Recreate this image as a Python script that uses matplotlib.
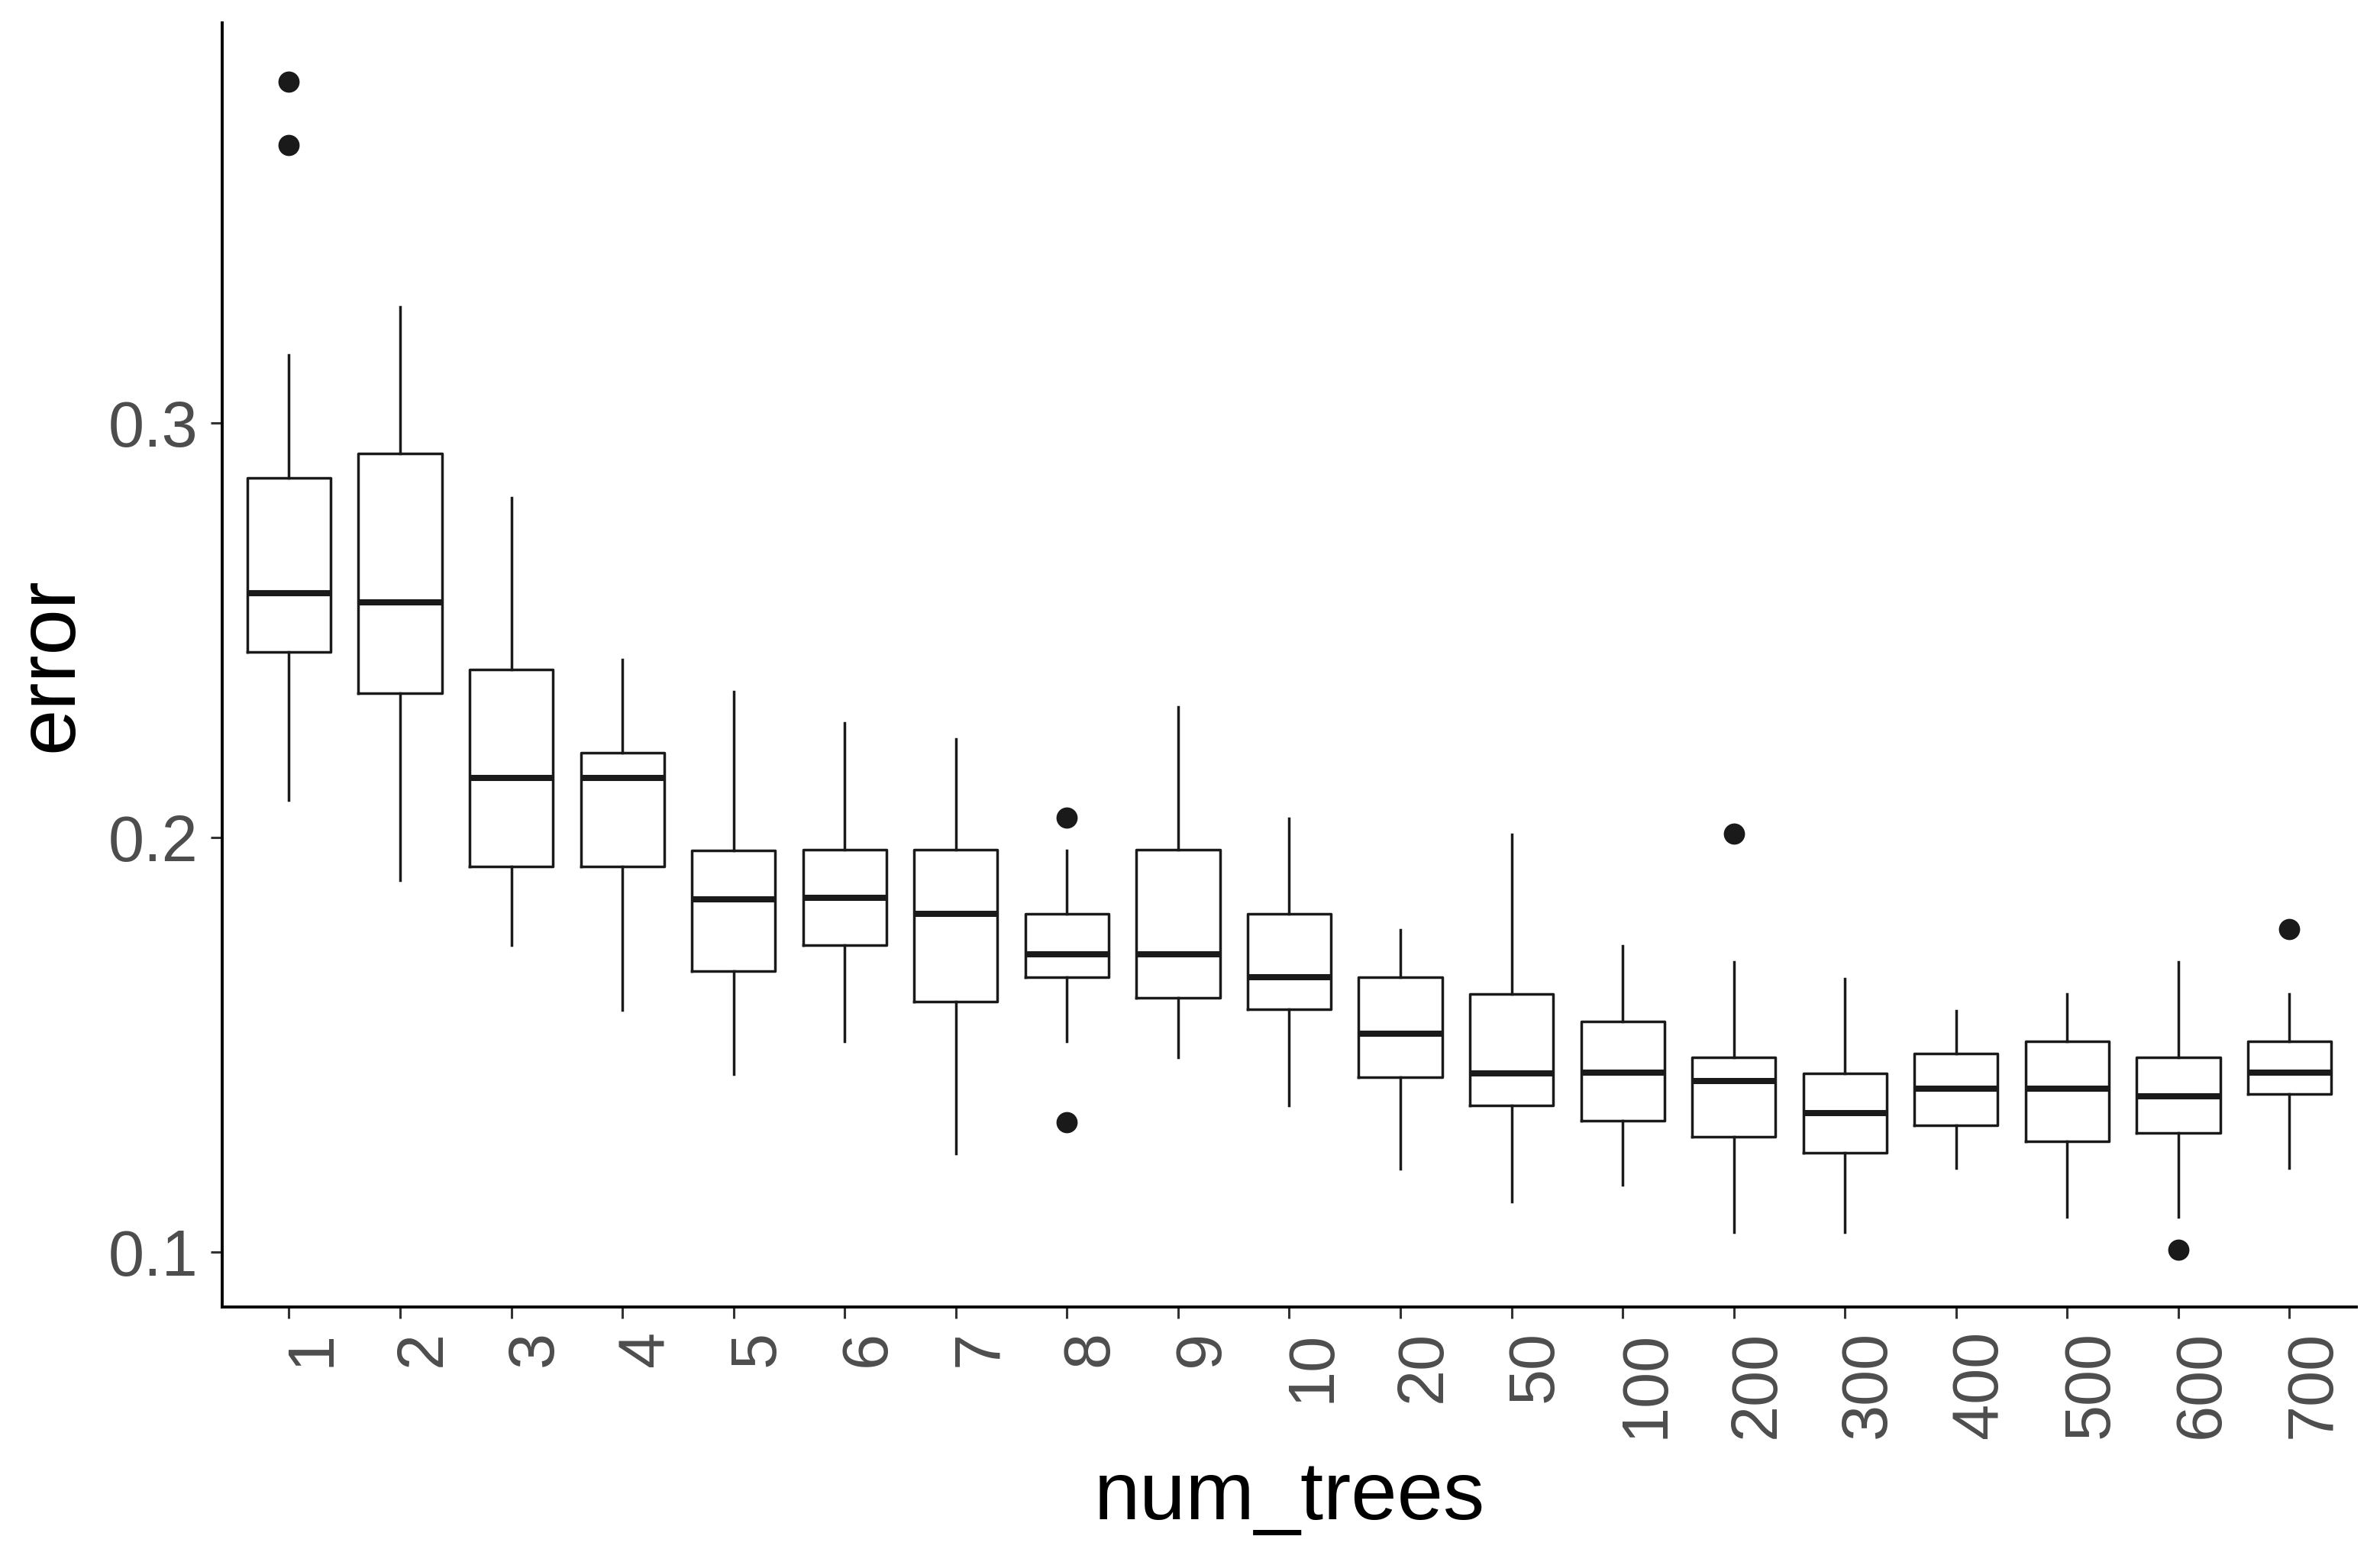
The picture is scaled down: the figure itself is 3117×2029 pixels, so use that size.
import numpy as np
import matplotlib.pyplot as plt
from matplotlib.transforms import ScaledTranslation

# box statistics
num_trees = ['1', '2', '3', '4', '5', '6', '7', '8', '9', '10',
             '20', '50', '100', '200', '300', '400', '500', '600', '700']
whislo = [0.2089, 0.1896, 0.1739, 0.1583, 0.1428, 0.1508, 0.1238, 0.1508, 0.1469, 0.1353,
          0.1200, 0.1122, 0.1162, 0.1048, 0.1048, 0.1202, 0.1085, 0.1085, 0.1202]
q1 = [0.2446, 0.2348, 0.1929, 0.1929, 0.1677, 0.1740, 0.1603, 0.1662, 0.1613, 0.1585,
      0.1421, 0.1353, 0.1316, 0.1277, 0.1239, 0.1305, 0.1266, 0.1287, 0.1381]
med = [0.2589, 0.2567, 0.2144, 0.2144, 0.1851, 0.1854, 0.1816, 0.1718, 0.1718, 0.1662,
       0.1527, 0.1430, 0.1432, 0.1413, 0.1334, 0.1394, 0.1394, 0.1375, 0.1432]
q3 = [0.2866, 0.2925, 0.2405, 0.2203, 0.1969, 0.1970, 0.1970, 0.1816, 0.1970, 0.1816,
      0.1662, 0.1622, 0.1555, 0.1470, 0.1431, 0.1478, 0.1508, 0.1470, 0.1508]
whishi = [0.3164, 0.3279, 0.2818, 0.2428, 0.2351, 0.2276, 0.2237, 0.1968, 0.2315, 0.2045,
          0.1776, 0.2007, 0.1738, 0.1699, 0.1659, 0.1582, 0.1622, 0.1699, 0.1622]
fliers = [[0.3823, 0.3669], [], [], [], [], [], [], [0.2047, 0.1312], [], [],
          [], [], [], [0.2008], [], [], [], [0.1006], [0.1778]]

plt.rcParams['font.family'] = ['Liberation Sans', 'DejaVu Sans']

fig = plt.figure(figsize=(15.585, 10.145), dpi=200)
ax = fig.add_axes([0.0934, 0.1562, 0.8966, 0.829])

stats = []
for i in range(len(num_trees)):
    stats.append(dict(label=num_trees[i], whislo=whislo[i], q1=q1[i], med=med[i],
                      q3=q3[i], whishi=whishi[i], fliers=fliers[i]))

lw = 1.25
ax.bxp(stats, positions=np.arange(1, len(num_trees) + 1), widths=0.75, showcaps=False,
       boxprops=dict(color='#1a1a1a', linewidth=lw),
       whiskerprops=dict(color='#1a1a1a', linewidth=lw),
       medianprops=dict(color='#1a1a1a', linewidth=2.9, solid_capstyle='butt'),
       flierprops=dict(marker='o', markersize=9, markerfacecolor='#1a1a1a',
                       markeredgecolor='#1a1a1a'))

ax.set_xlim(0.4, len(num_trees) + 0.6)
ax.set_ylim(0.0867, 0.3964)
ax.set_yticks([0.1, 0.2, 0.3])
ax.set_yticklabels(['0.1', '0.2', '0.3'])

for s in ['top', 'right']:
    ax.spines[s].set_visible(False)
for s in ['left', 'bottom']:
    ax.spines[s].set_linewidth(1.4)
    ax.spines[s].set_color('black')

ax.tick_params(axis='both', length=5.5, width=1.1, color='#333333',
               labelsize=30.5, labelcolor='#4d4d4d')
ax.tick_params(axis='y', pad=6)
ax.tick_params(axis='x', pad=5.5)
for lab in ax.get_xticklabels():
    lab.set_rotation(90)
    lab.set_ha('center')
    lab.set_va('top')
    lab.set_transform(lab.get_transform() + ScaledTranslation(0.155, 0, fig.dpi_scale_trans))

ax.set_xlabel('num_trees', fontsize=39, labelpad=10)
ax.set_ylabel('error', fontsize=39, labelpad=9)

fig.savefig('out.png', dpi=200, facecolor='white')
